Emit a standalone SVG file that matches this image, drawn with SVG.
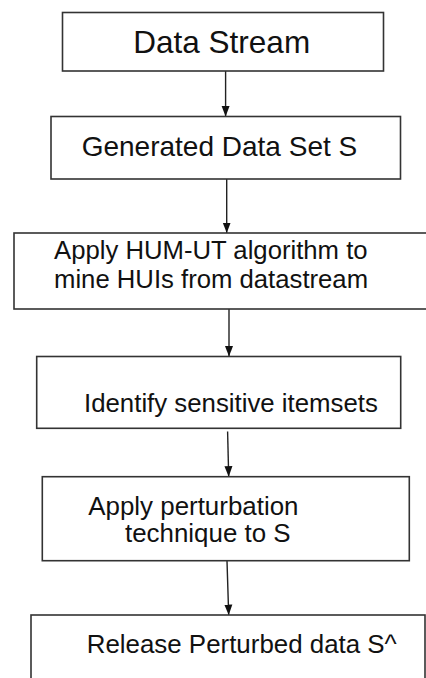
<svg xmlns="http://www.w3.org/2000/svg" width="426" height="678" viewBox="0 0 426 678">
<defs>
<style>
.box{fill:#ffffff;stroke:#333333;stroke-width:1.6}
.lbl{font-family:"Liberation Sans",Arial,sans-serif;fill:#111111}
.conn{stroke:#222222;stroke-width:1.4;fill:none;marker-end:url(#arr)}
</style>
<marker id="arr" markerUnits="userSpaceOnUse" markerWidth="11" markerHeight="9" refX="10.5" refY="4.5" orient="auto">
<path d="M0,0.5 L10.5,4.5 L0,8.5 z" fill="#111111"/>
</marker>
</defs>
<rect width="426" height="678" fill="#ffffff"/>
<g id="connectors">
<line class="conn" x1="225.6" y1="71" x2="225.6" y2="116.5"/>
<line class="conn" x1="226.7" y1="179" x2="226.7" y2="233"/>
<line class="conn" x1="229" y1="309" x2="229" y2="356.5"/>
<line class="conn" x1="227.6" y1="431.5" x2="228.7" y2="476.7"/>
<line class="conn" x1="227" y1="561" x2="228.7" y2="615"/>
</g>
<g id="n1">
<rect class="box" x="62.5" y="12.5" width="321" height="58.5"/>
<text class="lbl" x="133.3" y="53.3" font-size="31.5">Data Stream</text>
</g>
<g id="n2">
<rect class="box" x="51" y="116.5" width="349.5" height="62.5"/>
<text class="lbl" x="81.7" y="155.7" font-size="28">Generated Data Set S</text>
</g>
<g id="n3">
<rect class="box" x="14" y="233" width="430" height="76"/>
<text class="lbl" x="54" y="259" font-size="25.7">Apply HUM-UT algorithm to</text>
<text class="lbl" x="54" y="288.3" font-size="25.7">mine HUIs from datastream</text>
</g>
<g id="n4">
<rect class="box" x="36.7" y="356.5" width="364" height="71.8"/>
<text class="lbl" x="84" y="411.7" font-size="25.8">Identify sensitive itemsets</text>
</g>
<g id="n5">
<rect class="box" x="42.3" y="476.7" width="367" height="84"/>
<text class="lbl" x="88.3" y="515" font-size="25.9">Apply perturbation</text>
<text class="lbl" x="125" y="541.7" font-size="25.9">technique to S</text>
</g>
<g id="n6">
<rect class="box" x="31" y="615" width="394" height="80"/>
<text class="lbl" x="86.7" y="653.3" font-size="25.9">Release Perturbed data S^</text>
</g>
</svg>
